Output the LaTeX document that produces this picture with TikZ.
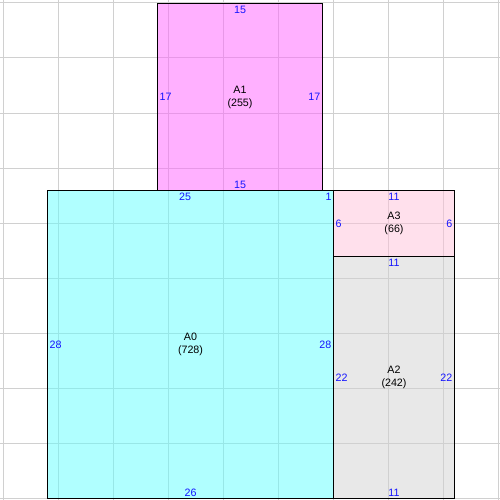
\documentclass[tikz,border=0pt]{standalone}
\usepackage{fontspec}
\usepackage{tikz}
\usetikzlibrary{calc}
\usetikzlibrary{positioning}
\newfontfamily\lblfont{Liberation Sans}
\definecolor{cyanfill}{RGB}{97,255,255}
\definecolor{pinkfill}{RGB}{255,97,255}
\definecolor{rosefill}{RGB}{255,193,217}
\definecolor{greyfill}{RGB}{209,209,209}
\definecolor{gridgrey}{RGB}{208,208,208}
\definecolor{numblue}{RGB}{20,20,255}
\newcommand{\lbl}{\lblfont\fontsize{10.7}{13}\selectfont}

\begin{document}
\begin{tikzpicture}[x=11pt,y=-11pt,
    gridline/.style={draw=gridgrey, line width=1pt},
    areabox/.style={draw=black, line width=1pt, inner sep=0pt, anchor=north west, fill opacity=0.5},
    num/.style={text=numblue, inner sep=2.5pt, font=\lbl},
    arealbl/.style={align=center, inner sep=0pt, font=\lbl}]
      \useasboundingbox (-3pt,3pt) rectangle (497pt,-497pt);
      \foreach \i in {0,5,...,45} {
        \draw[gridline] (\i,-0.3) -- (\i,45.3);
        \draw[gridline] (-0.3,\i) -- (45.3,\i);
      }
      \node[areabox, fill=pinkfill, minimum width=165pt, minimum height=187pt] (A1) at (14,0) {};
      \node[areabox, fill=cyanfill, minimum width=286pt, minimum height=308pt] (A0) at (4,17) {};
      \node[areabox, fill=rosefill, minimum width=121pt, minimum height=66pt] (A3) at (30,17) {};
      \node[areabox, fill=greyfill, minimum width=121pt, minimum height=242pt] (A2) at (30,23) {};
      % A1
      \node[num, below=0pt of A1.north] (a1t) {15};
      \node[num, above=0pt of A1.south] (a1b) {15};
      \node[num, right=0pt of A1.west]  (a1l) {17};
      \node[num, left=0pt of A1.east]   (a1r) {17};
      \node[arealbl] (a1n) at (A1.center) {A1\\(255)};
      % A0
      \coordinate (a0cut) at (A0.north west -| A1.east);
      \coordinate (a0lm) at ($(A0.north west)!0.5!(a0cut)$);
      \coordinate (a0rm) at ($(a0cut)!0.5!(A0.north east)$);
      \node[num, below=0pt of a0lm] (a0t) {25};
      \node[num, below=0pt of a0rm] (a0c) {1};
      \node[num, above=0pt of A0.south] (a0b) {26};
      \node[num, right=0pt of A0.west]  (a0l) {28};
      \node[num, left=0pt of A0.east]   (a0r) {28};
      \node[arealbl] (a0n) at (A0.center) {A0\\(728)};
      % A3
      \node[num, below=0pt of A3.north] (a3t) {11};
      \node[num, right=0pt of A3.west]  (a3l) {6};
      \node[num, left=0pt of A3.east]   (a3r) {6};
      \node[arealbl] (a3n) at (A3.center) {A3\\(66)};
      % A2
      \node[num, below=0pt of A2.north] (a2t) {11};
      \node[num, above=0pt of A2.south] (a2b) {11};
      \node[num, right=0pt of A2.west]  (a2l) {22};
      \node[num, left=0pt of A2.east]   (a2r) {22};
      \node[arealbl] (a2n) at (A2.center) {A2\\(242)};
    \end{tikzpicture}
\end{document}
